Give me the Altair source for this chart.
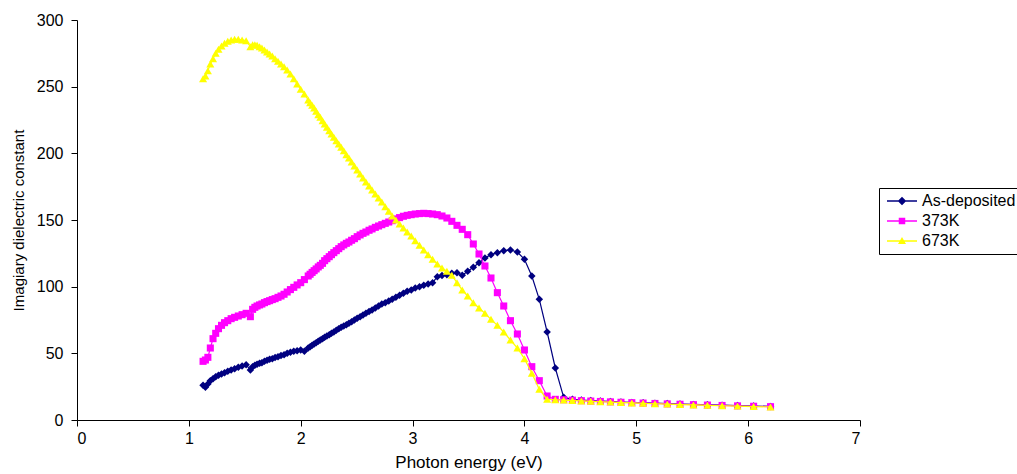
import altair as alt
import pandas as pd

# Photon energy (eV) of the measured points (shared by the three series)
energy = [
    1.127, 1.148, 1.170, 1.192, 1.216, 1.240, 1.265, 1.292, 1.319, 1.348, 1.378, 1.409, 1.442, 1.476, 1.512,
    1.550,
    1.570, 1.590, 1.610, 1.632, 1.653, 1.676, 1.699, 1.722, 1.746, 1.771, 1.797, 1.824, 1.851, 1.879, 1.908, 1.938, 1.968, 2.000, 2.033,
    2.067, 2.084, 2.102, 2.120, 2.138, 2.157, 2.175, 2.195, 2.214, 2.234, 2.255, 2.275, 2.296, 2.318, 2.340, 2.362, 2.385, 2.408, 2.431, 2.455, 2.480,
    2.505, 2.531, 2.557, 2.583, 2.611, 2.638, 2.667, 2.696, 2.725, 2.756, 2.787, 2.818, 2.851, 2.884, 2.918, 2.952, 2.988, 3.024, 3.062, 3.100,
    3.139, 3.179, 3.221, 3.263, 3.307, 3.351, 3.397, 3.444, 3.493, 3.543, 3.594, 3.647, 3.701, 3.758, 3.815, 3.875, 3.937, 4.000, 4.066, 4.133,
    4.203, 4.276, 4.351, 4.429, 4.509, 4.593, 4.679, 4.769, 4.863, 4.960, 5.061, 5.167, 5.277, 5.391, 5.511, 5.636, 5.767, 5.905, 6.049, 6.200,
]

as_deposited = [
    26, 24.5, 27, 29.5, 31, 32.5, 33.5, 34.5, 35.5, 36.5, 37.5, 38.5, 39.5, 40.5, 41.5,
    37.5,
    40, 41, 41.8, 42.5, 43, 44, 44.8, 45.5, 46, 46.8, 47.5, 48.3, 49, 50, 50.8, 51.5, 52, 52.5, 51.5,
    54, 55, 56, 57, 58, 59, 60, 61, 62, 63, 64, 65, 66, 67.3, 68.5, 69.5, 70.5, 71.5, 72.5, 73.7, 75,
    76.3, 77.5, 78.7, 80, 81.3, 82.5, 84, 85.5, 87, 88, 89.3, 90.5, 92, 93.5, 95, 96.5, 97.5, 99, 100, 101,
    102, 103, 107.5, 108.3, 109, 110, 110.5, 108.5, 111.5, 114.5, 118, 121.5, 124, 125.5, 127, 127.5, 126, 120.5, 108, 90.5,
    66, 39, 17, 15.5, 15, 14.6, 14.2, 13.9, 13.5, 13.2, 12.9, 12.6, 12.3, 12, 11.7, 11.4, 11.1, 10.8, 10.5, 10.2,
]

k373 = [
    44, 45, 47, 54, 61, 65, 68.5, 71, 73, 74.5, 76, 77, 78, 79, 80,
    77.5,
    83, 84.5, 85.5, 86.3, 87, 88, 88.8, 89.5, 90.3, 91, 92, 93, 94.3, 96, 97.8, 99.5, 101.3, 103, 105.3,
    108, 109.3, 110.7, 112, 113.3, 114.8, 116, 117.5, 119.5, 121, 122.5, 124, 125.5, 127, 128.5, 130, 131.3, 132.5, 133.5, 134.8, 136,
    137.5, 138.8, 140, 141, 142.3, 143.3, 144.5, 145.5, 146.5, 147.5, 148.5, 149.5, 150.8, 151.8, 152.8, 153.5, 154, 154.5, 154.8, 155,
    154.8, 154.5, 154, 153, 151.5, 149, 146, 143, 139, 132, 124.5, 115.5, 106.5, 95.5, 85.5, 74.5, 64.5, 52.5, 40, 29.5,
    18, 15.5, 15.2, 14.9, 14.5, 14.2, 13.9, 13.6, 13.3, 13, 12.7, 12.4, 12.1, 11.8, 11.5, 11.2, 10.9, 10.6, 10.3, 10,
]

k673 = [
    256, 258, 262, 267, 271, 275, 278, 280.5, 282.5, 284, 285, 285.5, 285.5, 285, 284.5,
    280,
    281.5, 281.5, 281, 280, 279, 277.5, 276, 274.5, 273, 271, 269, 267, 265, 262.5, 259.5, 256, 252, 248, 244.5,
    240, 238, 236, 234, 231.5, 229, 227, 224.5, 222, 219.5, 217, 214.5, 212, 209.5, 207, 204.5, 202, 199, 196.5, 193.5, 190.5,
    187.5, 184.5, 181.5, 178.5, 175.5, 172.5, 169.5, 166.5, 163.5, 160, 156.5, 153, 150, 147, 144, 141, 138, 134.5, 131, 127.5,
    124, 120.5, 117, 114, 111.5, 108.5, 103, 97.5, 93, 88, 84, 80, 75.5, 71, 66, 60, 54, 46, 35, 23,
    15.5, 15.2, 14.9, 14.6, 14.3, 14, 13.7, 13.4, 13.1, 12.8, 12.5, 12.2, 11.9, 11.6, 11.3, 11, 10.7, 10.4, 10.1, 9.8,
]

series_names = ["As-deposited", "373K", "673K"]
series_colors = ["#000080", "#FF00FF", "#FFFF00"]
series_shapes = ["diamond", "square", "triangle-up"]
series_sizes = [56, 50, 64]
x_ticks = [0, 1, 2, 3, 4, 5, 6, 7]
y_ticks = [0, 50, 100, 150, 200, 250, 300]

# legend symbols: a short line with the marker in the middle
legend_paths = [
    "M-1,-0.13L5,-0.13L5,0.13L-1,0.13Z M2,-0.85L2.85,0L2,0.85L1.15,0Z",
    "M-1,-0.13L5,-0.13L5,0.13L-1,0.13Z M1.35,-0.65L2.65,-0.65L2.65,0.65L1.35,0.65Z",
    "M-1,-0.13L5,-0.13L5,0.13L-1,0.13Z M2,-0.8L2.8,0.6L1.2,0.6Z",
]

rows = []
for name, vals in zip(series_names, [as_deposited, k373, k673]):
    assert len(vals) == len(energy), (name, len(vals), len(energy))
    for e, v in zip(energy, vals):
        rows.append({"energy": e, "value": v, "series": name})
df = pd.DataFrame(rows)

FONT = "Liberation Sans"

x_enc = alt.X(
    "energy:Q",
    scale=alt.Scale(domain=[0, 7], nice=False, zero=False),
    axis=alt.Axis(
        values=x_ticks, title="Photon energy (eV)", grid=False, format="d",
        labelPadding=4, titlePadding=8, titleFontSize=17, labelFontSize=16,
    ),
)
y_enc = alt.Y(
    "value:Q",
    scale=alt.Scale(domain=[0, 300], nice=False),
    axis=alt.Axis(
        values=y_ticks, title="Imagiary dielectric constant", grid=False, format="d",
        labelPadding=8, titlePadding=10, titleFontSize=15, labelFontSize=16,
    ),
)

layers = []
for name, col, shp, sz in zip(series_names, series_colors, series_shapes, series_sizes):
    sub = alt.Chart(df).transform_filter(alt.datum.series == name)
    layers.append(
        sub.mark_line(strokeWidth=1.2, color=col, opacity=1).encode(x=x_enc, y=y_enc)
    )
    layers.append(
        sub.mark_point(filled=True, shape=shp, size=sz, color=col, opacity=1, strokeWidth=0).encode(
            x=x_enc, y=y_enc
        )
    )

legend_common = dict(
    title=None, orient="none", legendX=802, legendY=168, padding=5,
    strokeColor="#000000", fillColor="#FFFFFF", labelFont=FONT, labelFontSize=16,
    labelColor="#000000", labelOffset=22, rowPadding=4, symbolSize=100,
    symbolStrokeWidth=0, symbolOpacity=1, labelLimit=300,
)

legend_layer = (
    alt.Chart(df)
    .transform_filter("false")
    .mark_point(filled=True, opacity=1)
    .encode(
        x=x_enc,
        y=y_enc,
        color=alt.Color(
            "series:N",
            scale=alt.Scale(domain=series_names, range=series_colors),
            legend=alt.Legend(**legend_common),
        ),
        shape=alt.Shape(
            "series:N",
            scale=alt.Scale(domain=series_names, range=legend_paths),
            legend=alt.Legend(**legend_common),
        ),
    )
)

chart = (
    alt.layer(*layers, legend_layer)
    .properties(
        width=783, height=400,
        autosize=alt.AutoSizeParams(type="none"),
        padding={"left": 77, "top": 20, "right": 157, "bottom": 54},
        background="#FFFFFF",
    )
    .configure_view(stroke=None)
    .configure_axis(
        labelFont=FONT, titleFont=FONT,
        titleFontWeight="normal", labelColor="#000000", titleColor="#000000",
        domainColor="#000000", tickColor="#000000", tickSize=6, domainWidth=1, tickWidth=1,
    )
)

chart.save("out.html", embed_options={"renderer": "svg", "actions": False})
